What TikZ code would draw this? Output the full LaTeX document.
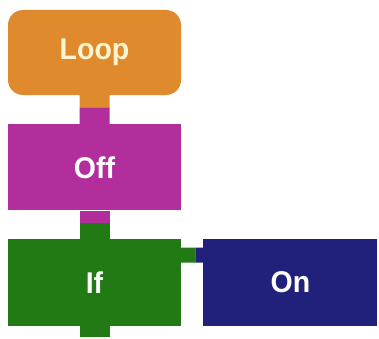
\documentclass[tikz,border=0pt]{standalone}
\usepackage{fontspec}
\setmainfont{Liberation Sans}
\usetikzlibrary{positioning,calc}
\definecolor{loopcol}{HTML}{E08A2E}
\definecolor{offcol}{HTML}{B22E9C}
\definecolor{ifcol}{HTML}{217A14}
\definecolor{oncol}{HTML}{21207A}
\definecolor{cream}{HTML}{FFF4D0}
\newcommand{\blocklabel}[1]{\scalebox{0.95}[1]{#1}}
\tikzstyle{block}=[rectangle,minimum width=173pt,minimum height=86pt,inner sep=0pt,
  text=white,font=\fontsize{30}{32}\selectfont\bfseries]
\tikzstyle{tab}=[line width=30pt]
\tikzstyle{sidetab}=[line width=15pt]

\begin{document}
\begin{tikzpicture}[x=1pt,y=1pt]
  \useasboundingbox (0,0) rectangle (379,338);

  \node[block,fill=loopcol,rounded corners=15pt,text=cream,minimum height=85pt] (loop) at (94.5,285.5) {\blocklabel{Loop}};
  \node[block,fill=offcol,below=29pt of loop] (off) {\blocklabel{Off}};
  \node[block,fill=ifcol,below=28pt of off,minimum height=87pt] (if) {\blocklabel{If}};
  \node[block,fill=oncol,right=22pt of if,minimum width=174pt,minimum height=87pt] (on) {\blocklabel{On}};

  % tabs between the blocks
  \coordinate (loop-off) at ($(loop.south)!0.42!(off.north)$);
  \coordinate (off-if) at ($(off.south)!0.43!(if.north)$);
  \coordinate (if end) at ($(if.south)+(0,-11)$);
  \draw[tab,loopcol] (loop.south) -- (loop-off);
  \draw[tab,offcol] (loop-off) -- (off.north);
  \draw[tab,offcol] (off.south) -- (off-if);
  \draw[tab,ifcol] (off-if) -- (if.north);
  \draw[tab,ifcol] (if.south) -- (if end);

  \coordinate (if port) at ($(if.north east)+(0,-16.5)$);
  \coordinate (on port) at ($(on.north west)+(0,-16.5)$);
  \coordinate (if-on) at ($(if port)!0.64!(on port)$);
  \draw[sidetab,ifcol] (if port) -- (if-on);
  \draw[sidetab,oncol] (if-on) -- (on port);
\end{tikzpicture}
\end{document}
